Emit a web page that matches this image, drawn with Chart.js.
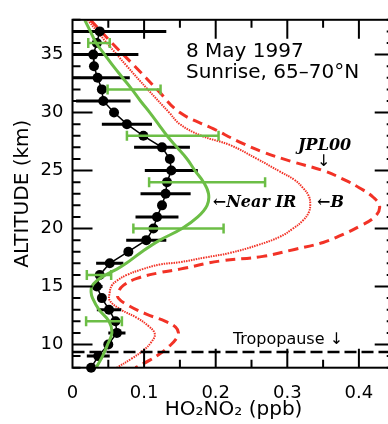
<!DOCTYPE html>
<html><head><meta charset="utf-8">
<script src="https://cdn.jsdelivr.net/npm/chart.js@4/dist/chart.umd.min.js"></script>
<style>html,body{margin:0;padding:0;background:#fff;overflow:hidden;width:388px;height:424px}canvas{display:block}</style>
</head><body><canvas id="c" width="400" height="424"></canvas>
<script>
// Observations (black): altitude (km), HO2NO2 (ppb), half error (ppb)
const obsAlt = [37,36,35,34,33,32,31,30,29,28,27,26,25,24,23,22,21,20,19,18,17,16,15,14,13,12,11,10,9,8];
const obsVal = [0.038,0.034,0.029,0.030,0.035,0.041,0.043,0.058,0.076,0.099,0.125,0.136,0.138,0.132,0.130,0.125,0.118,0.113,0.103,0.078,0.052,0.038,0.034,0.041,0.051,0.060,0.062,0.050,0.036,0.026];
const obsErr = [0.093,null,0.063,null,0.045,null,0.038,null,0.035,null,0.039,null,0.037,null,0.035,null,0.030,null,0.028,null,0.019,null,0.008,null,0.017,null,0.012,null,0.016,null];

// Near IR model (green)
const nirAlt = [38,37,36,35,34,33,32,31,30,29,28,27,26,25,24,23,22,21,20,19,18,17,16.5,16,15.5,15,14.5,14,13,12,11,10,9,8];
const nirVal = [0.017,0.025,0.033,0.045,0.057,0.070,0.083,0.095,0.108,0.120,0.132,0.146,0.160,0.171,0.183,0.190,0.188,0.175,0.153,0.122,0.097,0.075,0.062,0.046,0.034,0.027,0.026,0.028,0.037,0.051,0.055,0.049,0.042,0.033];
const nirBarAlt = [36,32,28,24,20,16,12];
const nirBarVal = [0.037,0.086,0.140,0.188,0.148,0.037,0.044];
const nirBarErr = [0.015,0.037,0.064,0.081,0.063,0.017,0.025];

// JPL00 model (red dashed)
const jplAlt = [38,36,34,32,30,28.6,27.5,26.6,25.8,25,24.2,23.5,22.7,21.9,21,20.2,19.5,18.8,18.2,17.6,17.2,16.5,16.2,15.7,15.1,14.5,14,13.3,12.6,12,11.5,11,10.5,9.9,9.2,8.65,8];
const jplVal = [0.025,0.055,0.087,0.118,0.150,0.197,0.232,0.266,0.305,0.350,0.380,0.401,0.420,0.429,0.422,0.401,0.378,0.350,0.310,0.266,0.206,0.150,0.122,0.090,0.071,0.064,0.064,0.080,0.104,0.130,0.144,0.148,0.145,0.136,0.122,0.108,0.088];

// B model (red dotted)
const bAlt = [38,36,34,32,30,29,28,27.2,26,24.9,24.2,23.5,22.8,22.1,21.4,20.7,20,19.3,18.6,17.9,17.5,17.1,16.9,16.5,16,15.5,15.1,14.5,13.8,13,12.3,11.6,10.9,10.2,9.5,8.8,8];
const bVal = [0.021,0.048,0.076,0.105,0.135,0.150,0.180,0.220,0.258,0.290,0.310,0.322,0.330,0.332,0.330,0.322,0.308,0.290,0.260,0.220,0.185,0.150,0.122,0.098,0.076,0.062,0.055,0.052,0.052,0.068,0.090,0.106,0.115,0.110,0.099,0.083,0.062];

const tropopauseAlt = 9.35;
const xTickValues = [0, 0.1, 0.2, 0.3, 0.4];
const yTickValues = [10, 15, 20, 25, 30, 35];

const RED = 'rgb(242,50,38)';
const GREEN = 'rgb(108,190,70)';
const pts = (alt, val) => alt.map((a, i) => ({x: val[i], y: a}));

const decor = {
  id: 'decor',
  afterDatasetDraw(chart, args) {
    const ds = chart.data.datasets[args.index];
    if (!ds.bars) return;
    const {ctx, chartArea: a} = chart;
    const xs = chart.scales.x, ys = chart.scales.y;
    const b = ds.bars;
    ctx.save();
    ctx.beginPath(); ctx.rect(a.left, a.top - 20, a.right - a.left, a.bottom - a.top + 40); ctx.clip();
    ctx.strokeStyle = b.color; ctx.lineWidth = b.width; ctx.lineCap = 'butt';
    b.alt.forEach((al, i) => {
      if (b.err[i] == null) return;
      const py = ys.getPixelForValue(al);
      const x1 = xs.getPixelForValue(b.val[i] - b.err[i]);
      const x2 = xs.getPixelForValue(b.val[i] + b.err[i]);
      ctx.beginPath(); ctx.moveTo(x1, py); ctx.lineTo(x2, py); ctx.stroke();
      if (b.cap) {
        ctx.beginPath();
        ctx.moveTo(x1, py - b.cap); ctx.lineTo(x1, py + b.cap);
        ctx.moveTo(x2, py - b.cap); ctx.lineTo(x2, py + b.cap);
        ctx.stroke();
      }
    });
    ctx.restore();
  },
  afterDraw(chart) {
    const {ctx, chartArea: a} = chart;
    const xs = chart.scales.x, ys = chart.scales.y;
    ctx.save();
    // tropopause
    ctx.strokeStyle = '#000'; ctx.lineWidth = 2.5; ctx.setLineDash([12, 5]);
    const ty = ys.getPixelForValue(tropopauseAlt);
    ctx.beginPath(); ctx.moveTo(a.left, ty); ctx.lineTo(a.right, ty); ctx.stroke();
    ctx.setLineDash([]);
    // frame
    ctx.lineWidth = 2;
    ctx.strokeRect(a.left, a.top, a.right - a.left, a.bottom - a.top);
    // inward ticks
    ctx.beginPath();
    for (let v = 8; v <= 38; v++) {
      const py = ys.getPixelForValue(v);
      const L = v % 5 === 0 ? 20 : 8;
      ctx.moveTo(a.left, py); ctx.lineTo(a.left + L, py);
      ctx.moveTo(a.right, py); ctx.lineTo(a.right - L, py);
    }
    for (let i = 1; i <= 8; i++) {
      const px = xs.getPixelForValue(i * 0.05);
      const L = i % 2 === 0 ? 19 : 8;
      ctx.moveTo(px, a.bottom); ctx.lineTo(px, a.bottom - L);
      ctx.moveTo(px, a.top); ctx.lineTo(px, a.top + L);
    }
    ctx.stroke();
    // annotations
    ctx.fillStyle = '#000';
    ctx.textBaseline = 'alphabetic';
    ctx.textAlign = 'left';
    ctx.font = '20px "DejaVu Sans"';
    ctx.fillText('8 May 1997', xs.getPixelForValue(0.1585), ys.getPixelForValue(34.79));
    ctx.fillText('Sunrise, 65\u201370\u00B0N', xs.getPixelForValue(0.1585), ys.getPixelForValue(32.96));
    ctx.font = '16px "DejaVu Sans"';
    ctx.fillText('Tropopause \u2193', xs.getPixelForValue(0.224), ys.getPixelForValue(10.08));
    ctx.font = 'italic bold 16px "DejaVu Serif"';
    ctx.fillText('JPL00', xs.getPixelForValue(0.315), ys.getPixelForValue(26.78));
    ctx.fillText('\u2190Near IR', xs.getPixelForValue(0.196), ys.getPixelForValue(21.89));
    ctx.fillText('\u2190B', xs.getPixelForValue(0.3415), ys.getPixelForValue(21.89));
    ctx.font = '16px "DejaVu Sans"';
    ctx.textAlign = 'center'; ctx.textBaseline = 'middle';
    ctx.fillText('\u2193', xs.getPixelForValue(0.351), ys.getPixelForValue(25.75));
    ctx.restore();
  }
};

new Chart(document.getElementById('c'), {
  type: 'scatter',
  data: {
    datasets: [
      { label: 'Near IR', data: pts(nirAlt, nirVal), showLine: true, borderColor: GREEN, borderWidth: 3,
        pointRadius: 0, tension: 0.4,
        bars: {alt: nirBarAlt, val: nirBarVal, err: nirBarErr, color: GREEN, width: 2.5, cap: 5} },
      { label: 'Obs', data: pts(obsAlt, obsVal), showLine: true, borderColor: '#000', borderWidth: 1.5,
        pointRadius: 5, pointBackgroundColor: '#000', pointBorderWidth: 0, clip: false,
        bars: {alt: obsAlt, val: obsVal, err: obsErr, color: '#000', width: 3, cap: 0} },
      { label: 'B', data: pts(bAlt, bVal), showLine: true, borderColor: RED, borderWidth: 2,
        borderDash: [1.5, 1], pointRadius: 0, tension: 0.4 },
      { label: 'JPL00', data: pts(jplAlt, jplVal), showLine: true, borderColor: RED, borderWidth: 3,
        borderDash: [10, 6], pointRadius: 0, tension: 0.4 }
    ]
  },
  options: {
    responsive: false, animation: false,
    layout: { padding: { top: 10.7, right: 5.3, left: 0, bottom: 0 } },
    plugins: { legend: { display: false }, tooltip: { enabled: false } },
    scales: {
      x: {
        type: 'linear', min: 0, max: 0.45, position: 'bottom',
        grid: { display: false, drawTicks: false }, border: { display: false },
        afterBuildTicks: s => { s.ticks = xTickValues.map(v => ({value: v})); },
        ticks: { padding: 15, color: '#000', maxRotation: 0, autoSkip: false,
                 font: { family: 'DejaVu Sans', size: 18 },
                 callback: v => String(Math.round(v * 10) / 10) },
        title: { display: true, text: 'HO\u2082NO\u2082 (ppb)', color: '#000',
                 font: { family: 'DejaVu Sans', size: 20 }, padding: { top: 0, bottom: 2 } },
        afterFit: s => { s.height = 56.3; }
      },
      y: {
        type: 'linear', min: 8, max: 38, position: 'left',
        grid: { display: false, drawTicks: false }, border: { display: false },
        afterBuildTicks: s => { s.ticks = yTickValues.map(v => ({value: v})); },
        ticks: { padding: 9, color: '#000', autoSkip: false,
                 font: { family: 'DejaVu Sans', size: 18 } },
        title: { display: true, text: 'ALTITUDE (km)', color: '#000',
                 font: { family: 'DejaVu Sans', size: 20 }, padding: { top: 10.5, bottom: 0 } },
        afterFit: s => { s.width = 72.5; }
      }
    }
  },
  plugins: [decor]
});
</script></body></html>
